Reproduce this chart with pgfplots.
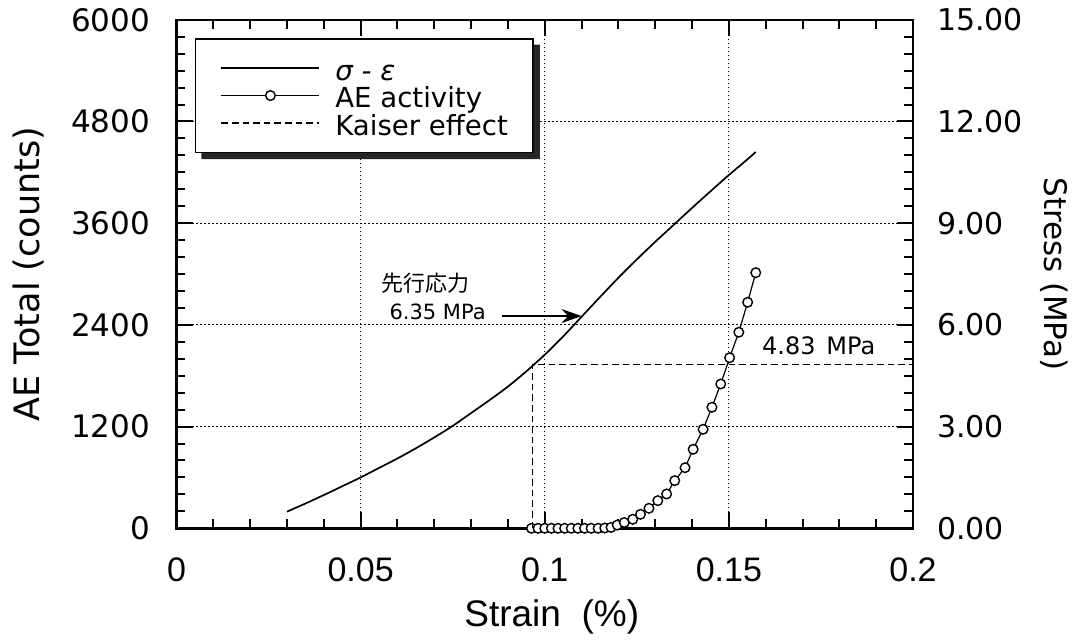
\documentclass[border=0pt]{standalone}
\usepackage{fontspec}
\setmainfont{DejaVu Sans}
\newfontfamily\lib{Liberation Sans}
\newfontfamily\jp{Noto Sans CJK JP}
\usepackage{pgfplots}
\pgfplotsset{compat=1.18}
\usepackage{pgfplotstable}
\usetikzlibrary{arrows.meta}

% stress-strain curve (strain %, MPa)
\pgfplotstableread{
x y
0.0300 0.49
0.0350 0.73
0.0400 0.98
0.0450 1.24
0.0500 1.50
0.0550 1.78
0.0600 2.06
0.0650 2.36
0.0700 2.68
0.0750 3.02
0.0800 3.40
0.0850 3.78
0.0900 4.18
0.0950 4.63
0.1000 5.12
0.1050 5.66
0.1100 6.24
0.1150 6.82
0.1200 7.39
0.1250 7.93
0.1300 8.45
0.1350 8.95
0.1400 9.45
0.1450 9.94
0.1500 10.42
0.1550 10.88
0.1573 11.10
}\stress

% AE total counts
\pgfplotstableread{
x y
0.0964 0
0.0982 0
0.1000 0
0.1018 0
0.1036 0
0.1054 0
0.1072 0
0.1090 0
0.1108 0
0.1126 0
0.1145 0
0.1163 3
0.1180 10
0.1197 38
0.1216 68
0.1239 106
0.1260 165
0.1283 236
0.1307 326
0.1331 405
0.1353 562
0.1381 715
0.1403 932
0.1430 1168
0.1454 1428
0.1478 1703
0.1502 2013
0.1527 2313
0.1551 2667
0.1573 3016
}\aetotal

% Kaiser effect guide (MPa)
\pgfplotstableread{
x y
0.0966 0
0.0966 4.83
0.2 4.83
}\kaiser

\pgfplotsset{
  common/.style={
    scale only axis, width=368.25pt, height=254.25pt,
    xmin=0, xmax=0.2,
    major tick length=8pt, minor tick length=4.5pt,
    tick style={black, line width=1pt},
    axis line style={line width=1.3pt},
    clip=false,
  }
}

\begin{document}
\begin{tikzpicture}
\begin{axis}[common,
  tick align=inside,
  ymin=0, ymax=6000,
  xtick={0,0.05,0.1,0.15,0.2}, xticklabels={0,0.05,0.1,0.15,0.2},
  minor x tick num=4,
  ytick={0,1200,2400,3600,4800,6000}, yticklabels={0,1200,2400,3600,4800,6000},
  minor y tick num=5,
  xtick pos=both, ytick pos=left,
  grid=major,
  major grid style={black, line width=0.6pt, dash pattern=on 0.6pt off 1.4pt},
  xticklabel style={font=\lib\fontsize{17}{20}\selectfont, yshift=-11pt},
  yticklabel style={font=\fontsize{15.5}{18}\selectfont, xshift=-9.7pt},
  xlabel={Strain\ \ (\%)},
  every axis x label/.style={at={(rel axis cs:0.5,0)}, yshift=-44.3pt, xshift=3.5pt, anchor=center, font=\lib\fontsize{18.5}{20}\selectfont},
  ylabel={AE Total (counts)},
  every axis y label/.style={at={(rel axis cs:0,0.5)}, xshift=-74pt, rotate=90, anchor=center, font=\fontsize{17.5}{20}\selectfont},
]
\addplot[black, line width=0.6pt, mark=*, mark size=2.4pt,
  mark options={fill=white, draw=black, line width=0.7pt, solid}] table {\aetotal};
\end{axis}

\begin{axis}[common,
  ymin=0, ymax=15,
  axis x line=none, axis y line*=right,
  tick align=inside,
  ytick={0,3,6,9,12,15}, yticklabels={0.00,3.00,6.00,9.00,12.00,15.00},
  minor y tick num=5,
  yticklabel style={font=\fontsize{15}{18}\selectfont, xshift=8.5pt},
  ylabel={Stress (MPa)},
  every axis y label/.style={at={(rel axis cs:1,0.5)}, xshift=70.5pt, rotate=-90, anchor=center, font=\fontsize{15.5}{18}\selectfont},
  legend cell align=left,
  legend image code/.code={\draw[mark repeat=2, mark phase=2, #1] plot coordinates {(0pt,0pt) (24.5pt,0pt) (49pt,0pt)};},
  legend style={name=leg, at={(rel axis cs:0.0251,0.9636)}, anchor=north west,
    draw=black, line width=0.6pt, fill=white,
    font=\fontsize{13.8}{14}\selectfont, inner xsep=12.5pt, inner ysep=7.7pt, row sep=0pt,
    column sep=7.5pt,
    nodes={inner sep=0pt, text height=13pt, text depth=0.75pt}},
]
\addplot[black, line width=0.85pt, smooth, tension=0.5] table {\stress};
\addlegendentry{\itshape σ - ε}
\addlegendimage{black, line width=0.6pt, mark=*, mark size=2.4pt, mark options={fill=white, draw=black, line width=0.7pt, solid}}
\addlegendentry{AE activity}
\addlegendimage{black, line width=0.7pt, dash pattern=on 3.3pt off 2pt}
\addlegendentry{Kaiser effect}
\addplot[forget plot, black, line width=0.7pt, dash pattern=on 3.3pt off 2pt] table {\kaiser};

\node[font=\jp\fontsize{11}{12}\selectfont] at (axis cs:0.0677,7.24) {先行応力};
\node[font=\fontsize{10.5}{12}\selectfont] at (axis cs:0.0709,6.37) {6.35 MPa};
\draw[line width=0.8pt, -{Stealth[length=10pt, width=7pt]}] (axis cs:0.0883,6.26) -- (axis cs:0.1100,6.26);
\node[font=\fontsize{12}{14}\selectfont] at (axis cs:0.1744,5.37) {4.83\hspace{0.45em}MPa};
\end{axis}

% legend shadow (right and bottom strips)
\fill[black!85] ([yshift=-3.2pt]leg.north east) -- ([xshift=3.2pt,yshift=-3.2pt]leg.north east)
  -- ([xshift=3.2pt,yshift=-3.2pt]leg.south east) -- ([xshift=3.2pt,yshift=-3.2pt]leg.south west)
  -- ([xshift=3.2pt]leg.south west) -- (leg.south east) -- cycle;

\pgfresetboundingbox
\path[use as bounding box] ([xshift=-88.25pt,yshift=-55.85pt]current axis.south west) rectangle ([xshift=80pt,yshift=9.9pt]current axis.north east);
\end{tikzpicture}
\end{document}
